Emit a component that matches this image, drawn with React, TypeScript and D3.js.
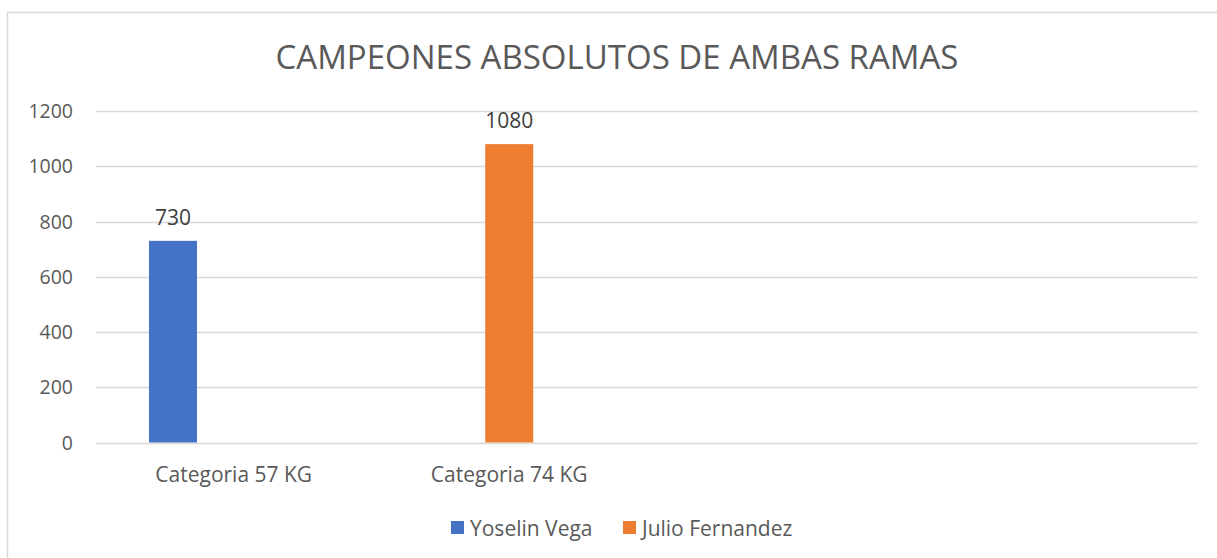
import React, { useEffect, useRef } from 'react';
import * as d3 from 'd3';

const title = 'CAMPEONES ABSOLUTOS DE AMBAS RAMAS';
const categories = ['Categoria 57 KG', 'Categoria 74 KG', '', ''];
const seriesNames = ['Yoselin Vega', 'Julio Fernandez'];
const seriesColors = ['#4472c4', '#ed7d31'];
const yoselinVega = [730, null, null, null];
const julioFernandez = [null, 1080, null, null];
const yTicks = [0, 200, 400, 600, 800, 1000, 1200];
// excel keeps a third (empty) slot in every cluster
const slots = [0, 1, 2];

const W = 1217, H = 558;
const FONT = '"Open Sans", "Noto Sans", sans-serif';
const TEXT = '#595959';

export default function App() {
  const ref = useRef<SVGSVGElement>(null);

  useEffect(() => {
    const svg = d3.select(ref.current);
    svg.selectAll('*').remove();

    const plot = { top: 111, bottom: 442.5, left: 96, right: 1198 };
    const x0 = d3.scaleBand().domain(categories.map((_, i) => String(i))).range([plot.left, plot.right]).padding(0);
    const x1 = d3.scaleBand<number>().domain(slots).range([53, 222.5]).paddingInner(0.21);
    const y = d3.scaleLinear().domain([0, 1200]).range([plot.bottom, plot.top]);

    // chart frame
    svg.append('path')
      .attr('d', `M7.5,${H} V12.5 H${W}`)
      .attr('fill', 'none')
      .attr('stroke', '#d9d9d9')
      .attr('stroke-width', 1.5);

    svg.append('text')
      .attr('x', 617).attr('y', 69)
      .attr('text-anchor', 'middle')
      .attr('font-family', FONT).attr('font-size', 33)
      .attr('fill', TEXT)
      .text(title);

    // gridlines
    svg.append('g')
      .selectAll('line')
      .data(yTicks)
      .enter()
      .append('line')
      .attr('x1', plot.left).attr('x2', plot.right)
      .attr('y1', d => Math.round(y(d)) + 0.5).attr('y2', d => Math.round(y(d)) + 0.5)
      .attr('stroke', '#d9d9d9').attr('stroke-width', 1.5);

    svg.append('g')
      .selectAll('text')
      .data(yTicks)
      .enter()
      .append('text')
      .attr('x', 73).attr('y', d => y(d)).attr('dy', '0.36em')
      .attr('text-anchor', 'end')
      .attr('font-family', FONT).attr('font-size', 19.5)
      .attr('fill', TEXT)
      .text(d => d);

    svg.append('g')
      .selectAll('text')
      .data(categories)
      .enter()
      .append('text')
      .attr('x', (_, i) => x0(String(i))! + x0.bandwidth() / 2)
      .attr('y', 482)
      .attr('text-anchor', 'middle')
      .attr('font-family', FONT).attr('font-size', 21)
      .attr('fill', TEXT)
      .text(d => d);

    const series = [yoselinVega, julioFernandez];
    series.forEach((vals, s) => {
      const pts = vals
        .map((v, i) => ({ v, i }))
        .filter(p => p.v != null) as { v: number; i: number }[];
      const g = svg.append('g');
      g.selectAll('rect')
        .data(pts)
        .enter()
        .append('rect')
        .attr('x', p => x0(String(p.i))! + x1(s)!)
        .attr('width', x1.bandwidth())
        .attr('y', p => y(p.v))
        .attr('height', p => y(0) - y(p.v))
        .attr('fill', seriesColors[s]);
      g.selectAll('text')
        .data(pts)
        .enter()
        .append('text')
        .attr('x', p => x0(String(p.i))! + x1(s)! + x1.bandwidth() / 2)
        .attr('y', p => y(p.v) - 16)
        .attr('text-anchor', 'middle')
        .attr('font-family', FONT).attr('font-size', 21)
        .attr('fill', '#404040')
        .text(p => p.v);
    });

    // legend
    const legendX = [451, 623];
    const lg = svg.append('g')
      .selectAll('g')
      .data(seriesNames)
      .enter()
      .append('g')
      .attr('transform', (_, i) => `translate(${legendX[i]},521)`);
    lg.append('rect')
      .attr('width', 13).attr('height', 13)
      .attr('fill', (_, i) => seriesColors[i]);
    lg.append('text')
      .attr('x', 19).attr('y', 7).attr('dy', '0.36em')
      .attr('font-family', FONT).attr('font-size', 21)
      .attr('fill', TEXT)
      .text(d => d);
  }, []);

  return (
    <div>
      <style>{`body{margin:0;overflow:hidden;background:#fff}`}</style>
      <svg ref={ref} width={W} height={H} style={{ display: 'block' }}></svg>
    </div>
  );
}
